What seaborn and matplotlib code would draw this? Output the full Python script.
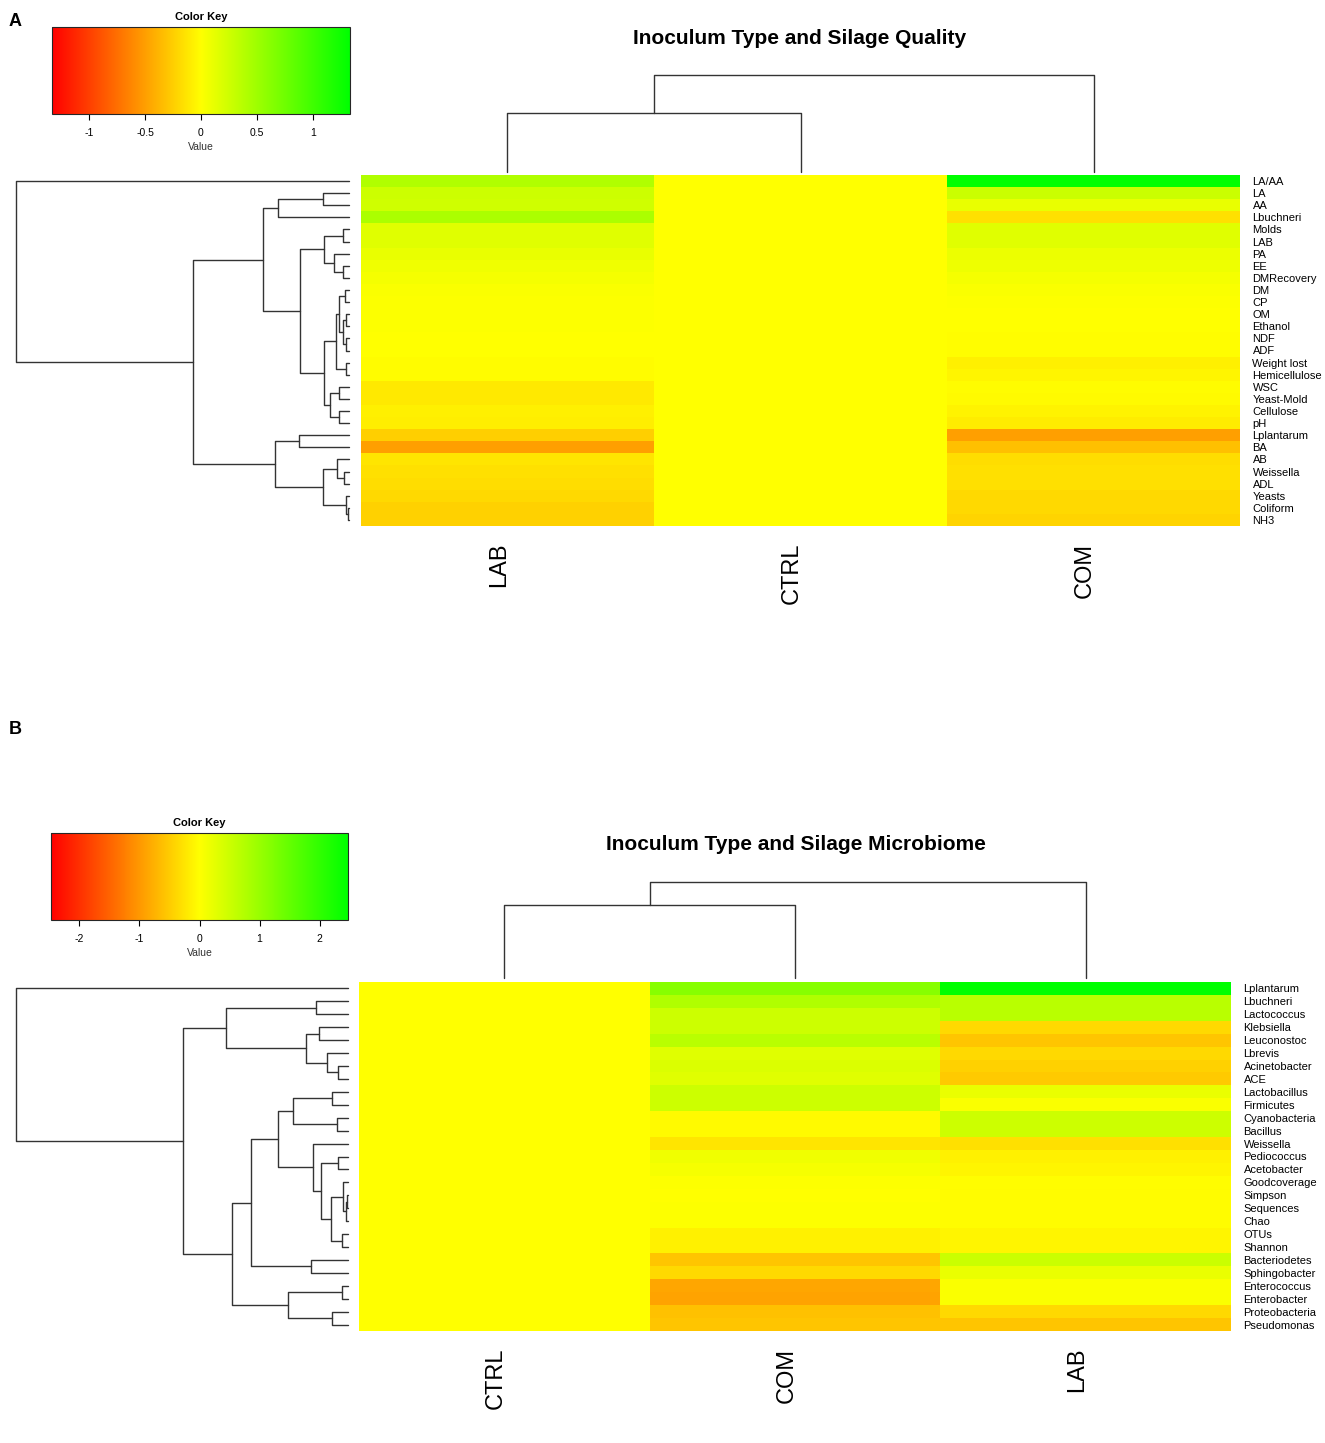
import numpy as np
import pandas as pd
import matplotlib
matplotlib.use("Agg")
import matplotlib.pyplot as plt
import seaborn as sns
from matplotlib.colors import LinearSegmentedColormap, Normalize
from matplotlib.cm import ScalarMappable

sns.set_style("white")
plt.rcParams['font.family'] = ['Liberation Sans', 'DejaVu Sans']
plt.rcParams['text.color'] = 'black'
plt.rcParams['xtick.color'] = 'black'
plt.rcParams['ytick.color'] = 'black'
plt.rcParams['axes.labelcolor'] = 'black'

# ---------------- data : panel A (silage quality) ----------------
rows_a = ['LA/AA', 'LA', 'AA', 'Lbuchneri', 'Molds', 'LAB', 'PA', 'EE', 'DMRecovery',
          'DM', 'CP', 'OM', 'Ethanol', 'NDF', 'ADF', 'Weight lost', 'Hemicellulose',
          'WSC', 'Yeast-Mold', 'Cellulose', 'pH', 'Lplantarum', 'BA', 'AB', 'Weissella',
          'ADL', 'Yeasts', 'Coliform', 'NH3']
cols_a = ['LAB', 'CTRL', 'COM']
lab_a = [0.41, 0.27, 0.25, 0.44, 0.16, 0.16, 0.12, 0.08, 0.05,
         0.03, 0.02, 0.02, 0.01, 0.0, 0.0, -0.02, -0.02,
         -0.12, -0.12, -0.08, -0.09, -0.25, -0.50, -0.13, -0.16,
         -0.18, -0.20, -0.24, -0.24]
ctrl_a = [0.0] * 29
com_a = [1.33, 0.28, 0.12, -0.16, 0.16, 0.16, 0.10, 0.09, 0.05,
         0.03, 0.01, 0.0, 0.0, -0.01, -0.01, -0.08, -0.05,
         -0.02, -0.03, -0.06, -0.10, -0.50, -0.33, -0.18, -0.16,
         -0.16, -0.20, -0.20, -0.22]
key_a = 1.33

# row tree A: (left, right, height), leaves are row names
tree_rows_a = (
    'LA/AA',
    (((('LA', 'AA', 0.078), 'Lbuchneri', 0.213),
      ((('Molds', 'LAB', 0.018), ('PA', ('EE', 'DMRecovery', 0.018), 0.043), 0.073),
       (((('DM', 'CP', 0.012), (('OM', 'Ethanol', 0.008), ('NDF', 'ADF', 0.008), 0.018), 0.028),
         ('Weight lost', 'Hemicellulose', 0.008), 0.038),
        (('WSC', 'Yeast-Mold', 0.028), ('Cellulose', 'pH', 0.028), 0.055), 0.073),
       0.145),
      0.258),
     (('Lplantarum', 'BA', 0.148),
      (('AB', ('Weissella', 'ADL', 0.013), 0.035), ('Yeasts', ('Coliform', 'NH3', 0.003), 0.008), 0.078),
      0.22),
     0.466),
    1.0)
tree_cols_a = (('LAB', 'CTRL', 0.61), 'COM', 1.0)

# ---------------- data : panel B (silage microbiome) ----------------
rows_b = ['Lplantarum', 'Lbuchneri', 'Lactococcus', 'Klebsiella', 'Leuconostoc', 'Lbrevis',
          'Acinetobacter', 'ACE', 'Lactobacillus', 'Firmicutes', 'Cyanobacteria', 'Bacillus',
          'Weissella', 'Pediococcus', 'Acetobacter', 'Goodcoverage', 'Simpson', 'Sequences',
          'Chao', 'OTUs', 'Shannon', 'Bacteriodetes', 'Sphingobacter', 'Enterococcus',
          'Enterobacter', 'Proteobacteria', 'Pseudomonas']
cols_b = ['CTRL', 'COM', 'LAB']
ctrl_b = [0.0] * 27
com_b = [1.15, 0.76, 0.49, 0.49, 0.68, 0.30, 0.34, 0.30, 0.49, 0.49, -0.05, -0.05,
         -0.24, 0.15, 0.08, 0.02, 0.0, 0.01, 0.01, -0.14, -0.14, -0.56, -0.37, -0.86,
         -0.90, -0.60, -0.56]
lab_b = [2.47, 0.68, 0.68, -0.37, -0.56, -0.37, -0.45, -0.52, 0.20, 0.05, 0.49, 0.49,
         -0.30, -0.14, -0.10, -0.02, -0.03, -0.03, -0.03, -0.10, -0.10, 0.52, 0.20, 0.05,
         0.05, -0.37, -0.56]
key_b = 2.47

tree_rows_b = (
    'Lplantarum',
    ((('Lbuchneri', 'Lactococcus', 0.096),
      (('Klebsiella', 'Leuconostoc', 0.085), ('Lbrevis', ('Acinetobacter', 'ACE', 0.028), 0.061), 0.126),
      0.366),
     (((((('Lactobacillus', 'Firmicutes', 0.046), ('Cyanobacteria', 'Bacillus', 0.033), 0.166),
         ('Weissella',
          (('Pediococcus', 'Acetobacter', 0.028),
           (('Goodcoverage', (('Simpson', 'Sequences', 0.003), 'Chao', 0.006), 0.014),
            ('OTUs', 'Shannon', 0.016), 0.050),
           0.080),
          0.106),
         0.209),
        ('Bacteriodetes', 'Sphingobacter', 0.110),
        0.291),
       (('Enterococcus', 'Enterobacter', 0.016), ('Proteobacteria', 'Pseudomonas', 0.046), 0.179),
       0.347)),
     0.497),
    1.0)
tree_cols_b = (('CTRL', 'COM', 0.76), 'LAB', 1.0)

W, H = 1325, 1443
fig = plt.figure(figsize=(W / 100, H / 100), dpi=100)
cmap = LinearSegmentedColormap.from_list('ryg', ['#ff0000', '#ffff00', '#00ff00'], N=299)


def px_axes(x0, y0, x1, y1):
    return fig.add_axes([x0 / W, 1 - y1 / H, (x1 - x0) / W, (y1 - y0) / H])


def segments(tree, pos):
    # walk the tree, return centre, height and the bracket lines
    if isinstance(tree, str):
        return pos[tree], 0.0, []
    left, right, h = tree
    cl, hl, sl = segments(left, pos)
    cr, hr, sr = segments(right, pos)
    seg = sl + sr + [([cl, cl, cr, cr], [hl, h, h, hr])]
    return (cl + cr) / 2, h, seg


def draw_panel(rows, cols, values, key, ticks, tree_r, tree_c, title, letter, box):
    hx0, hy0, hx1, hy1 = box['heat']
    df = pd.DataFrame(dict(zip(cols, values)), index=rows)

    ax = px_axes(hx0, hy0, hx1, hy1)
    sns.heatmap(df, ax=ax, cmap=cmap, vmin=-key, vmax=key, cbar=False,
                xticklabels=True, yticklabels=True)
    ax.yaxis.tick_right()
    ax.set_yticklabels(rows, rotation=0, fontsize=8)
    ax.set_xticks(np.arange(len(cols)) + 0.47)
    ax.set_xticklabels(cols, rotation=90, fontsize=17)
    ax.tick_params(axis='y', length=0, pad=9)
    ax.tick_params(axis='x', length=0, pad=12)
    ax.set_xlabel('')
    ax.set_ylabel('')

    # row dendrogram
    ad = px_axes(box['rden'], hy0, box['rleaf'], hy1)
    pos = {r: i + 0.5 for i, r in enumerate(rows)}
    for ys, xs in segments(tree_r, pos)[2]:
        ad.plot(xs, ys, color='#333333', lw=1, clip_on=False)
    ad.set_xlim(1, 0)
    ad.set_ylim(len(rows), 0)
    ad.axis('off')

    # column dendrogram
    ac = px_axes(hx0, box['cden'], hx1, box['cleaf'])
    pos = {c: i + 0.5 for i, c in enumerate(cols)}
    for xs, ys in segments(tree_c, pos)[2]:
        ac.plot(xs, ys, color='#333333', lw=1, clip_on=False)
    ac.set_xlim(0, len(cols))
    ac.set_ylim(0, 1)
    ac.axis('off')

    # colour key
    kx0, ky0, kx1, ky1 = box['key']
    ak = px_axes(kx0, ky0, kx1, ky1)
    cb = fig.colorbar(ScalarMappable(Normalize(-key, key), cmap), cax=ak, orientation='horizontal')
    cb.set_ticks(ticks)
    cb.set_ticklabels([('%g' % t) for t in ticks])
    cb.outline.set_linewidth(0.8)
    ak.tick_params(labelsize=7.5, length=4, width=0.8, pad=6)
    ak.set_xlabel('Value', fontsize=7.5, color='#333333', labelpad=3)
    ak.set_title('Color Key', fontsize=8, fontweight='bold', pad=5)

    fig.text(box['title'][0] / W, 1 - box['title'][1] / H, title, fontsize=15,
             fontweight='bold', ha='center', va='center')
    fig.text(15 / W, 1 - box['letter'] / H, letter, fontsize=13, fontweight='bold',
             ha='center', va='center')


draw_panel(rows_a, cols_a, [lab_a, ctrl_a, com_a], key_a, [-1, -0.5, 0, 0.5, 1],
           tree_rows_a, tree_cols_a, 'Inoculum Type and Silage Quality', 'A',
           {'heat': (361, 175, 1240, 526), 'rden': 15.7, 'rleaf': 348.5,
            'cden': 75, 'cleaf': 172, 'key': (52, 27, 350, 114),
            'title': (800, 38), 'letter': 22})

draw_panel(rows_b, cols_b, [ctrl_b, com_b, lab_b], key_b, [-2, -1, 0, 1, 2],
           tree_rows_b, tree_cols_b, 'Inoculum Type and Silage Microbiome', 'B',
           {'heat': (359, 982, 1231, 1331), 'rden': 15.7, 'rleaf': 347.7,
            'cden': 882, 'cleaf': 978, 'key': (51, 833, 348, 920),
            'title': (796, 845), 'letter': 730})

fig.savefig('out.png', dpi=100, facecolor='white')
